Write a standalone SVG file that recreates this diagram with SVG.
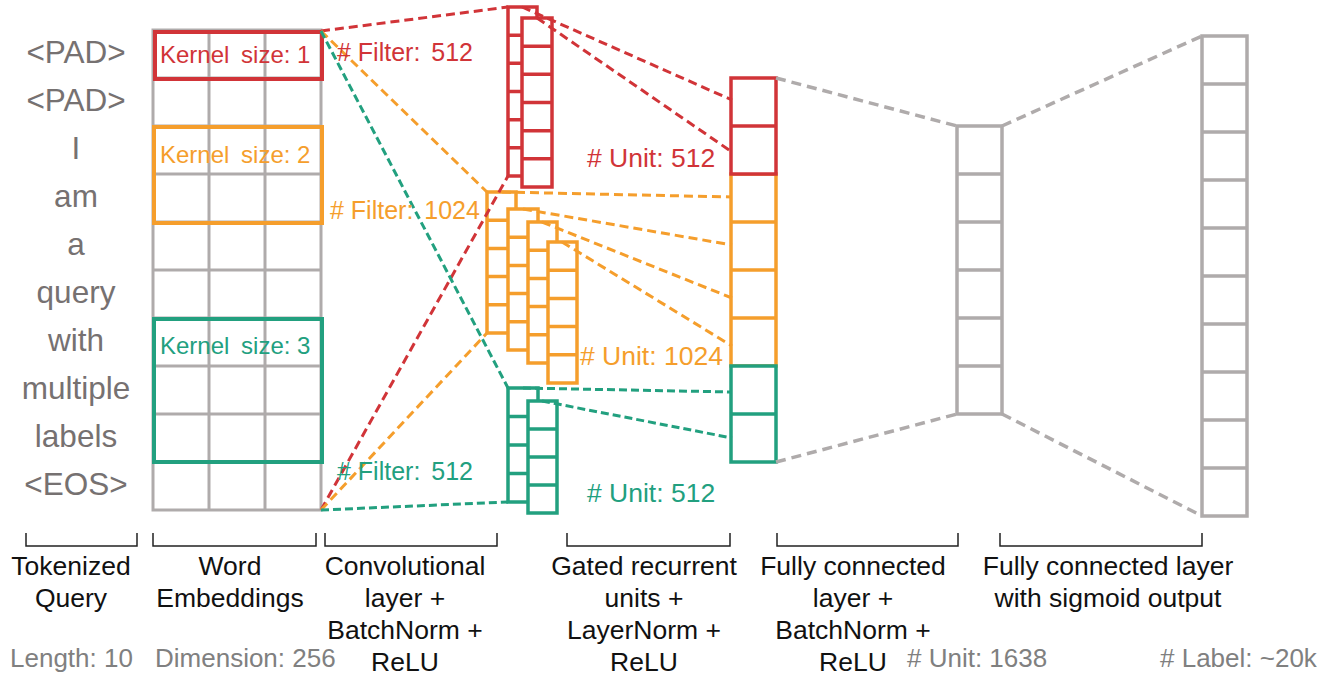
<svg xmlns="http://www.w3.org/2000/svg" width="1333" height="677" viewBox="0 0 1333 677">
<style>
text{font-family:"Liberation Sans",Arial,sans-serif}
.tok{font-size:31.5px;fill:#767171;text-anchor:middle}
.cap{font-size:26.5px;fill:#111;text-anchor:middle}
.info{font-size:26px;fill:#808080}
.gs{stroke:#AFABAB;stroke-width:3;fill:none}
.gb{stroke:#AFABAB;stroke-width:3.5;fill:#fff}
.rb{stroke:#D13438;stroke-width:3.5;fill:#fff}
.ob{stroke:#F59E2C;stroke-width:3.5;fill:#fff}
.nb{stroke:#22A07F;stroke-width:3.5;fill:#fff}
.rk{stroke:#D13438;stroke-width:4;fill:none}
.ok{stroke:#F59E2C;stroke-width:4;fill:none}
.nk{stroke:#22A07F;stroke-width:4;fill:none}
.rt{fill:#D13438}.ot{fill:#F59E2C}.nt{fill:#22A07F}
.klab{font-size:24px}
.flab{font-size:25px}
.ulab{font-size:26.5px}
.dr{stroke:#D13438;stroke-width:3;stroke-dasharray:9 5;fill:none}
.do{stroke:#F59E2C;stroke-width:3;stroke-dasharray:9 5;fill:none}
.dn{stroke:#22A07F;stroke-width:3;stroke-dasharray:8 4;fill:none}
.dg{stroke:#AFABAB;stroke-width:3.5;stroke-dasharray:10 6;fill:none}
.br{stroke:#222;stroke-width:1.5;fill:none}
</style>

<g id="tokens">
<text class="tok" x="76" y="63">&lt;PAD&gt;</text>
<text class="tok" x="76" y="111">&lt;PAD&gt;</text>
<text class="tok" x="76" y="159">I</text>
<text class="tok" x="76" y="207">am</text>
<text class="tok" x="76" y="255">a</text>
<text class="tok" x="76" y="303">query</text>
<text class="tok" x="76" y="351">with</text>
<text class="tok" x="76" y="399">multiple</text>
<text class="tok" x="76" y="447">labels</text>
<text class="tok" x="76" y="495">&lt;EOS&gt;</text>
</g>

<g id="embeddings">
<rect class="gs" x="153" y="30" width="168" height="480"/>
<path class="gs" d="M209 30V510M265 30V510M153 78H321M153 126H321M153 174H321M153 222H321M153 270H321M153 318H321M153 366H321M153 414H321M153 462H321"/>
</g>

<g id="kernel1">
<rect class="rk" x="155" y="32" width="167" height="47"/>
<text class="klab rt" x="160" y="63">Kernel<tspan dx="5"> size: 1</tspan></text>
</g>
<g id="kernel2">
<rect class="ok" x="154" y="127" width="168" height="96"/>
<text class="klab ot" x="160" y="163">Kernel<tspan dx="5"> size: 2</tspan></text>
</g>
<g id="kernel3">
<rect class="nk" x="154" y="319" width="168" height="143"/>
<text class="klab nt" x="160" y="354">Kernel<tspan dx="5"> size: 3</tspan></text>
</g>

<g id="gru-red">
<rect class="rb" x="508" y="7" width="29" height="169"/>
<path class="rb" d="M508 35.2H537M508 63.3H537M508 91.5H537M508 119.7H537M508 147.8H537"/>
<rect class="rb" x="522" y="18" width="30" height="169"/>
<path class="rb" d="M522 46.2H552M522 74.3H552M522 102.5H552M522 130.7H552M522 158.8H552"/>
</g>

<g id="gru-orange">
<rect class="ob" x="487" y="192" width="29" height="141"/>
<path class="ob" d="M487 220.2H516M487 248.4H516M487 276.6H516M487 304.8H516"/>
<rect class="ob" x="508" y="209" width="30" height="141"/>
<path class="ob" d="M508 237.2H538M508 265.4H538M508 293.6H538M508 321.8H538"/>
<rect class="ob" x="528" y="222" width="29" height="141"/>
<path class="ob" d="M528 250.2H557M528 278.4H557M528 306.6H557M528 334.8H557"/>
<rect class="ob" x="548" y="242" width="29" height="141"/>
<path class="ob" d="M548 270.2H577M548 298.4H577M548 326.6H577M548 354.8H577"/>
</g>

<g id="gru-green">
<rect class="nb" x="508" y="388" width="30" height="114"/>
<path class="nb" d="M508 416.5H538M508 445H538M508 473.5H538"/>
<rect class="nb" x="528" y="401" width="29" height="112"/>
<path class="nb" d="M528 429H557M528 457H557M528 485H557"/>
</g>

<g id="fc1">
<rect class="ob" x="731" y="174" width="45" height="192"/>
<path class="ob" d="M731 222H776M731 270H776M731 318H776"/>
<rect class="rb" x="731" y="78" width="45" height="96"/>
<path class="rb" d="M731 126H776"/>
<rect class="nb" x="731" y="366" width="45" height="96"/>
<path class="nb" d="M731 414H776"/>
</g>

<g id="fc2">
<rect class="gb" x="957" y="126" width="45" height="288"/>
<path class="gb" d="M957 174H1002M957 222H1002M957 270H1002M957 318H1002M957 366H1002"/>
</g>

<g id="output">
<rect class="gb" x="1202" y="36" width="45" height="480"/>
<path class="gb" d="M1202 84H1247M1202 132H1247M1202 180H1247M1202 228H1247M1202 276H1247M1202 324H1247M1202 372H1247M1202 420H1247M1202 468H1247"/>
</g>

<g id="connectors">
<path class="dr" d="M321 31L508 7M321 510L508 176M522 7L732 100M537 18L732 152"/>
<path class="do" d="M321 31L487 192M321 510L487 333M502 192L732 197M523 209L732 245M542 222L732 298M562 242L732 346"/>
<path class="dn" d="M321 31L508 388M321 510L508 502M523 388L732 392M542 401L732 438"/>
<path class="dg" d="M776 78L957 126M776 462L957 414M1002 126L1202 36M1002 414L1202 516"/>
</g>

<g id="layer-labels">
<text class="flab rt" x="337" y="61"># Filter:<tspan dx="4"> 512</tspan></text>
<text class="flab ot" x="330" y="219"># Filter:<tspan dx="4"> 1024</tspan></text>
<text class="flab nt" x="337" y="480"># Filter:<tspan dx="4"> 512</tspan></text>
<text class="ulab rt" x="587" y="167"># Unit: 512</text>
<text class="ulab ot" x="580" y="365"># Unit: 1024</text>
<text class="ulab nt" x="587" y="502"># Unit: 512</text>
</g>

<g id="brackets">
<path class="br" d="M26 533V546H137V533M153 533V546H316V533M325 533V546H497V533M567 533V546H730V533M777 533V546H958V533M1000 533V546H1202V533"/>
</g>

<g id="captions">
<text class="cap" x="71" y="575">Tokenized</text>
<text class="cap" x="71" y="607">Query</text>
<text class="cap" x="230" y="575">Word</text>
<text class="cap" x="230" y="607">Embeddings</text>
<text class="cap" x="405" y="575">Convolutional</text>
<text class="cap" x="405" y="607">layer +</text>
<text class="cap" x="405" y="639">BatchNorm +</text>
<text class="cap" x="405" y="671">ReLU</text>
<text class="cap" x="644" y="575">Gated recurrent</text>
<text class="cap" x="644" y="607">units +</text>
<text class="cap" x="644" y="639">LayerNorm +</text>
<text class="cap" x="644" y="671">ReLU</text>
<text class="cap" x="853" y="575">Fully connected</text>
<text class="cap" x="853" y="607">layer +</text>
<text class="cap" x="853" y="639">BatchNorm +</text>
<text class="cap" x="853" y="671">ReLU</text>
<text class="cap" x="1108" y="575">Fully connected layer</text>
<text class="cap" x="1108" y="607">with sigmoid output</text>
</g>

<g id="info">
<text class="info" x="10" y="667">Length: 10</text>
<text class="info" x="155" y="667">Dimension: 256</text>
<text class="info" x="907" y="667"># Unit: 1638</text>
<text class="info" x="1160" y="667"># Label: ~20k</text>
</g>
</svg>
